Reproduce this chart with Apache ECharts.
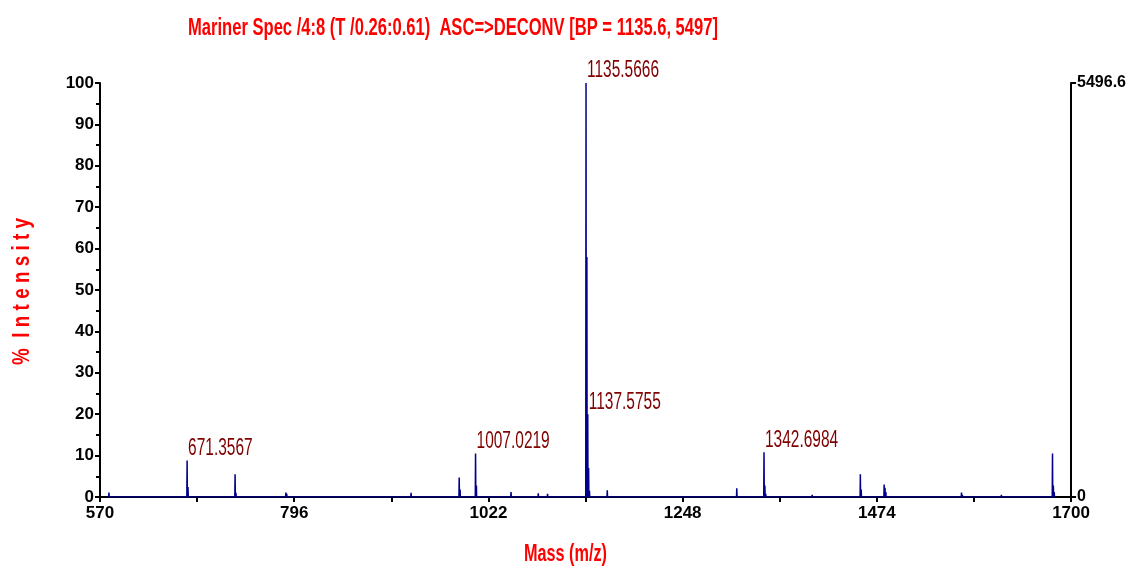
<!DOCTYPE html>
<html>
<head>
<meta charset="utf-8">
<script src="https://cdn.jsdelivr.net/npm/echarts@6/dist/echarts.min.js"></script>
<style>
  html, body { margin: 0; padding: 0; background: #fff; }
  #chart { width: 1129px; height: 570px; }
</style>
</head>
<body>
<div id="chart"></div>
<script>
// peak list (m/z, % intensity)
var peakMz = [580.4, 671.36, 672.4, 727.2, 728.2, 786.3, 787.3, 932.0, 988.0, 989.0,
  1007.02, 1008.0, 1048.3, 1080.0, 1090.8, 1135.57, 1136.57, 1137.58, 1138.58, 1139.6,
  1160.3, 1311.0, 1342.70, 1343.7, 1344.7, 1398.7, 1454.8, 1455.8, 1482.5, 1483.5,
  1484.5, 1572.5, 1573.5, 1618.9, 1678.4, 1679.4, 1680.4]
var peakInt = [1.1, 8.8, 2.4, 5.5, 1.0, 1.1, 0.8, 1.0, 4.7, 1.8,
  10.5, 2.8, 1.2, 0.9, 0.8, 100, 58, 20, 7, 1.5,
  1.6, 2.1, 10.8, 2.8, 0.8, 0.5, 5.5, 1.8, 3.0, 2.2,
  1.2, 1.1, 0.5, 0.5, 10.5, 2.8, 1.2]

// annotated peaks
var labelMz = [671.36, 1007.02, 1135.57, 1137.58, 1342.70]
var labelInt = [8.8, 10.5, 100, 20, 10.8]
var labelText = ['671.3567', '1007.0219', '1135.5666', '1137.5755', '1342.6984']

var basePeak = 5496.6

var titleText = 'Mariner Spec /4:8 (T /0.26:0.61)  ASC=>DECONV [BP = 1135.6, 5497]'
var xName = 'Mass (m/z)'
var yName = '%  I n t e n s i t y'

var font = '"Liberation Sans", Arial, sans-serif'

// each peak drawn as a thin spike from the baseline
var spectrum = []
for (var i = 0; i < peakMz.length; i++) {
  spectrum.push([peakMz[i] - 0.3, 0])
  spectrum.push([peakMz[i], peakInt[i]])
  spectrum.push([peakMz[i] + 0.3, 0])
}

// original text is a condensed face; squeeze Liberation Sans to the same width
var ctx = document.createElement('canvas').getContext('2d')
function squeeze(text, f, w) {
  ctx.font = f
  return w / ctx.measureText(text).width
}

var chart = echarts.init(document.getElementById('chart'))
chart.setOption({
  animation: false,
  backgroundColor: '#fff',
  grid: { left: 100, right: 54, top: 83, bottom: 73 },
  xAxis: {
    type: 'value',
    min: 570,
    max: 1700,
    interval: 226,
    axisLine: { lineStyle: { color: '#000', width: 2 } },
    axisTick: { length: 5, lineStyle: { color: '#000', width: 2 } },
    minorTick: { show: true, splitNumber: 2, length: 5, lineStyle: { color: '#000', width: 2 } },
    axisLabel: {
      color: '#000', fontFamily: font, fontWeight: 'bold', fontSize: 17, margin: 8,
      formatter: function (v) { return String(v) }
    },
    splitLine: { show: false }
  },
  yAxis: [{
    type: 'value',
    min: 0,
    max: 100,
    interval: 10,
    axisLine: { show: true, lineStyle: { color: '#000', width: 2 } },
    axisTick: { show: true, length: 5, lineStyle: { color: '#000', width: 2 } },
    minorTick: { show: true, splitNumber: 2, length: 4, lineStyle: { color: '#000', width: 2 } },
    axisLabel: { color: '#000', fontFamily: font, fontWeight: 'bold', fontSize: 17, margin: 6 },
    splitLine: { show: false }
  }, {
    type: 'value',
    position: 'right',
    min: 0,
    max: basePeak,
    interval: basePeak,
    axisLine: { show: true, lineStyle: { color: '#000', width: 2 } },
    axisTick: { show: true, length: 5, lineStyle: { color: '#000', width: 2 } },
    axisLabel: {
      color: '#000', fontFamily: font, fontWeight: 'bold', fontSize: 16, margin: 6,
      formatter: function (v) { return v === 0 ? '0' : basePeak.toFixed(1) }
    },
    splitLine: { show: false }
  }],
  series: [{
    type: 'line',
    data: spectrum,
    symbol: 'none',
    lineStyle: { color: '#00008b', width: 1.5 },
    areaStyle: { color: '#00008b', opacity: 1 },
    silent: true
  }]
})

var titleFont = 'bold 24px ' + font
var nameFont = 'bold 24px ' + font
var labFont = '23px ' + font
var labScale = squeeze('1135.5666', labFont, 72)

var g = [{
  type: 'text', x: 188, y: 28, scaleX: squeeze(titleText, titleFont, 530),
  style: { text: titleText, fill: '#ff0000', font: titleFont, verticalAlign: 'middle' }
}, {
  type: 'text', x: 524, y: 554, scaleX: squeeze(xName, nameFont, 83),
  style: { text: xName, fill: '#ff0000', font: nameFont, verticalAlign: 'middle' }
}, {
  type: 'text', x: 23, y: 365, rotation: Math.PI / 2, scaleX: squeeze(yName, 'bold 23px ' + font, 147),
  style: { text: yName, fill: '#ff0000', font: 'bold 23px ' + font, verticalAlign: 'middle', align: 'left' }
}]

// peak annotations placed through the chart's own scales
labelMz.forEach(function (m, i) {
  var p = chart.convertToPixel({ xAxisIndex: 0, yAxisIndex: 0 }, [m, labelInt[i]])
  g.push({
    type: 'text', x: p[0] + 1, y: p[1] - 12, scaleX: labScale,
    style: { text: labelText[i], fill: '#800000', font: labFont, verticalAlign: 'middle' }
  })
})

chart.setOption({ graphic: g })
</script>
</body>
</html>
